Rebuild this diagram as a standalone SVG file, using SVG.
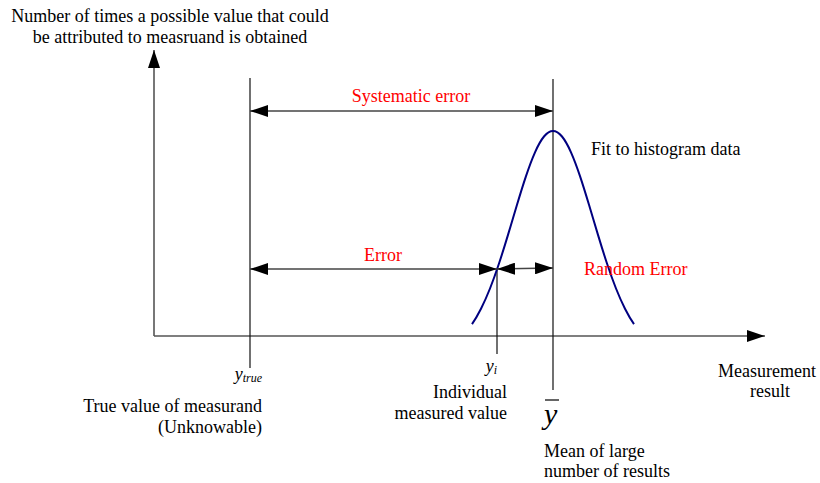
<svg xmlns="http://www.w3.org/2000/svg" width="820" height="483" viewBox="0 0 820 483" font-family="'Liberation Serif', 'Tinos', 'DejaVu Serif', serif" font-size="18">
<style>
text{font-family:'Liberation Serif','Tinos','DejaVu Serif',serif;font-size:18px;fill:#000}
.red{fill:#ff0000}
.it{font-style:italic}
.axis{stroke:#555;stroke-width:1.6;fill:none}
.vline{stroke:#111;stroke-width:1.2;fill:none}
.dim{stroke:#444;stroke-width:1.6;fill:none}
.curve{stroke:#000080;stroke-width:2;fill:none}
</style>
<defs>
<marker id="ah" viewBox="0 0 18 12" markerWidth="18" markerHeight="12" refX="18" refY="6" orient="auto-start-reverse" markerUnits="userSpaceOnUse">
<path d="M0,0 L18,6 L0,12 z" fill="#000"/>
</marker>
</defs>
<rect width="820" height="483" fill="#fff"/>

<g id="axes">
<line class="axis" x1="154" y1="336" x2="154" y2="50" marker-end="url(#ah)"/>
<line class="axis" x1="154" y1="336" x2="765" y2="336" marker-end="url(#ah)"/>
<text x="170" y="22" text-anchor="middle">Number of times a possible value that could</text>
<text x="170" y="43" text-anchor="middle">be attributed to measruand is obtained</text>
<text x="767" y="377" text-anchor="middle">Measurement</text>
<text x="770" y="397" text-anchor="middle">result</text>
</g>

<g id="true-value">
<line class="vline" x1="250" y1="78" x2="250" y2="368"/>
<text x="262" y="380" text-anchor="end"><tspan class="it">y</tspan><tspan class="it" font-size="12" dy="2">true</tspan></text>
<text x="262" y="412" text-anchor="end">True value of measurand</text>
<text x="262" y="433" text-anchor="end">(Unknowable)</text>
</g>

<g id="individual-value">
<line class="vline" x1="497" y1="269" x2="497" y2="354"/>
<text x="497" y="372" text-anchor="end"><tspan class="it">y</tspan><tspan class="it" font-size="12" dy="2">i</tspan></text>
<text x="507" y="398" text-anchor="end">Individual</text>
<text x="507" y="419" text-anchor="end">measured value</text>
</g>

<g id="mean-value">
<line class="vline" x1="553" y1="79" x2="553" y2="390"/>
<line x1="545" y1="400" x2="559" y2="400" stroke="#000" stroke-width="1.2"/>
<text x="544" y="424" class="it" style="font-size:30px">y</text>
<text x="544" y="457">Mean of large</text>
<text x="544" y="477">number of results</text>
</g>

<g id="fit-curve">
<path class="curve" d="M472,324.1 C475,319.77 478,314.62 481,308.7 C484,302.78 487,296.07 490,288.5 C493,280.93 496,272.52 499,263.5 C502,254.48 505,244.83 508,234.9 C511,224.97 514,214.78 517,204.8 C520,194.82 523,185.03 526,176.1 C529,167.17 532,159.06 535,152.3 C538,145.54 541,140.15 544,136.5 C547,132.86 550,131 553,131 C556,131 559,132.86 562,136.5 C565,140.15 568,145.54 571,152.3 C574,159.06 577,167.17 580,176.1 C583,185.03 586,194.82 589,204.8 C592,214.78 595,224.97 598,234.9 C601,244.83 604,254.48 607,263.5 C610,272.52 613,280.93 616,288.5 C619,296.07 622,302.78 625,308.7 C628,314.62 631,319.77 634,324.1"/>
<text x="591" y="155">Fit to histogram data</text>
</g>

<g id="connectors">
<line class="dim" x1="250" y1="111" x2="553" y2="111" marker-start="url(#ah)" marker-end="url(#ah)"/>
<line class="dim" x1="250" y1="269" x2="497" y2="269" marker-start="url(#ah)" marker-end="url(#ah)"/>
<line class="dim" x1="497" y1="269" x2="553" y2="268" marker-start="url(#ah)" marker-end="url(#ah)"/>
</g>

<g id="labels">
<text x="411" y="102" text-anchor="middle" class="red">Systematic error</text>
<text x="383" y="261" text-anchor="middle" class="red">Error</text>
<text x="584" y="275" class="red">Random Error</text>
</g>
</svg>
